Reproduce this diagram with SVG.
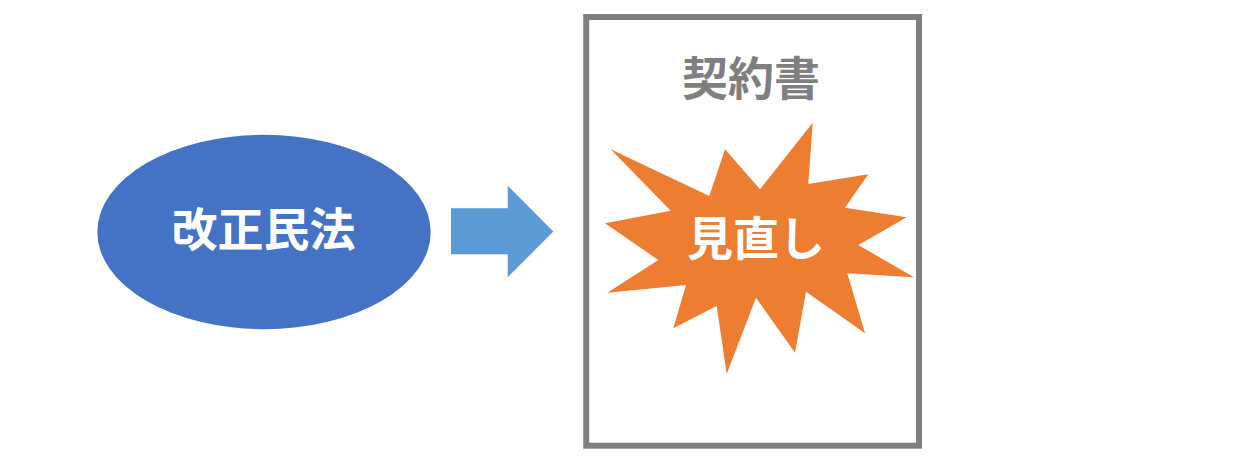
<svg xmlns="http://www.w3.org/2000/svg" width="1238" height="457" viewBox="0 0 1238 457">
<style>
.t{font-family:"Noto Sans CJK JP","Noto Sans CJK SC",sans-serif;font-weight:bold;font-size:46px;text-anchor:middle}
.w{fill:#FFFFFF}
</style>
<rect width="1238" height="457" fill="#FFFFFF"/>
<g id="doc">
<rect x="586.2" y="17" width="332.8" height="428.7" fill="#FFFFFF" stroke="#7F7F7F" stroke-width="6"/>
<text class="t" x="751" y="95" fill="#7F7F7F">契約書</text>
</g>
<g id="law">
<ellipse cx="264" cy="232" rx="166.7" ry="97.2" fill="#4472C4"/>
<text class="t w" x="263.5" y="246">改正民法</text>
</g>
<g id="connectors">
<polygon points="451,208.3 507.7,208.3 507.7,185.7 553.3,231.5 507.7,277.3 507.7,254.3 451,254.3" fill="#5B9BD5"/>
</g>
<g id="review">
<polygon points="610.7,149.3 709.3,196 725,149.3 760,189.3 812.7,122.7 808.3,184 868.3,174.3 845,207.7 906.7,217.3 858.3,245 914,277.3 847.3,273.3 865,333.3 806,291.7 795,352.7 756,297.7 726.7,374 716.7,306 673.3,328.3 686,285 607.3,292.7 658.3,260 605,223.3 670.7,210.7" fill="#ED7D31"/>
<text class="t w" x="756" y="255">見直し</text>
</g>
</svg>
